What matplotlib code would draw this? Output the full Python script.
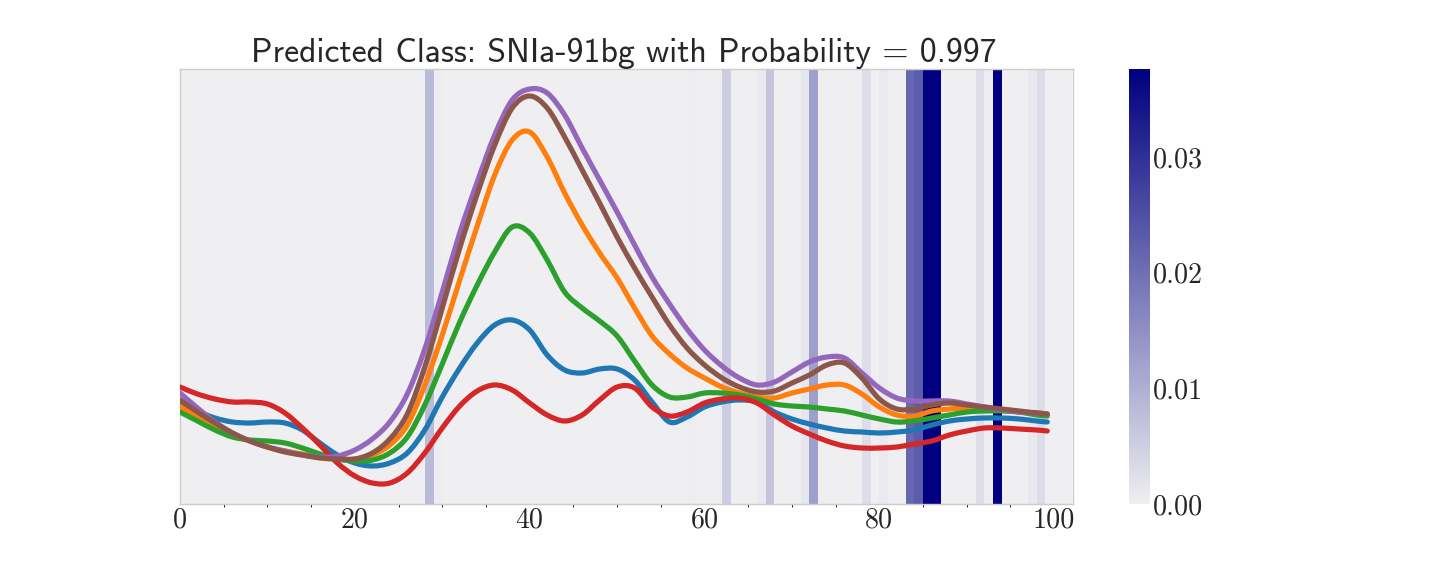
import numpy as np
import matplotlib
matplotlib.use("Agg")
import matplotlib.pyplot as plt
from matplotlib.colors import LinearSegmentedColormap
from matplotlib.path import Path
from matplotlib.patches import PathPatch

title_text = "Predicted Class: SNIa-91bg with Probability = 0.997"

x_vals = list(range(0, 100, 2)) + [99.2]
blue = [103,93,86,82,81,82,81,74,61,49, 41,38,41,51,74,107,136,161,179,184,
        174,149,134,131,135,135,124,102,82,87, 97,102,104,102,92,85,80,76,73,72,
        71,72,74,79,83,85,86,86,85,83, 82]
orange = [97,88,78,69,63,57,53,50,47,45, 45,49,59,79,119,169,224,278,329,364,
          372,347,311,279,251,226,196,168,150,136, 126,117,111,107,106,111,115,119,119,110,
          97,89,88,93,95,96,94,94,92,91, 90]
green = [92,83,74,67,64,63,61,56,50,45, 43,44,51,67,99,140,182,219,252,277,
         271,244,212,196,183,168,143,119,107,107, 111,111,109,105,100,98,97,95,93,89,
         85,82,83,86,89,92,93,93,92,89, 88]
red = [117,110,105,102,102,100,91,76,59,41, 28,21,21,31,51,76,98,113,119,114,
       101,89,83,89,104,117,116,97,88,92, 101,105,106,101,89,78,70,63,58,56,
       56,57,60,63,69,73,76,76,75,74, 73]
purple = [111,96,82,71,63,57,53,49,47,48, 54,65,82,110,155,212,271,322,369,404,
          415,411,389,356,324,292,259,227,200,175, 154,138,126,119,122,132,142,147,146,131,
          116,106,103,103,103,100,97,94,92,91, 90]
brown = [104,92,81,71,63,57,52,49,46,45, 45,51,65,90,137,196,256,310,359,396,
         408,396,367,334,301,267,236,207,179,156, 139,126,117,112,113,121,129,139,141,126,
         105,95,95,99,101,99,97,95,93,91, 90]
series = [blue, orange, green, red, purple, brown]
series_colors = ["#1f77b4", "#ff7f0e", "#2ca02c", "#d62728", "#9467bd", "#8c564b"]

attention_cells = {0: 0.0001, 1: 0.0002, 28: 0.0085, 29: 0.0003, 58: 0.0005, 62: 0.0053,
                   66: 0.001, 67: 0.0068, 71: 0.0016, 72: 0.0125, 78: 0.0027, 80: 0.001,
                   83: 0.0213, 84: 0.0232, 85: 0.0376, 86: 0.0376, 91: 0.0027, 92: 0.0003,
                   93: 0.0376, 97: 0.0011, 98: 0.0028}
n_cells = 102
vmax = 0.0376
major_ticks = [0, 20, 40, 60, 80, 100]
minor_ticks = [5, 10, 15, 25, 30, 35, 45, 50, 55, 65, 70, 75, 85, 90, 95]
cbar_ticks = [0.00, 0.01, 0.02, 0.03]
cbar_labels = ["0.00", "0.01", "0.02", "0.03"]

W, H = 1440, 576
TXT = "#262626"
cmap = LinearSegmentedColormap.from_list("att", ["#efeff2", "#000080"])


def smooth_path(xs, ys):
    """Smooth curve (cubic Bezier segments) passing through every listed point."""
    p = np.column_stack([xs, ys]).astype(float)
    m = np.gradient(p, axis=0)
    verts = [p[0]]
    codes = [Path.MOVETO]
    for i in range(len(p) - 1):
        verts += [p[i] + m[i] / 3, p[i + 1] - m[i + 1] / 3, p[i + 1]]
        codes += [Path.CURVE4] * 3
    return Path(verts, codes)


fig = plt.figure(figsize=(10, 4), dpi=144, facecolor="white")
ax = fig.add_axes([180 / W, 1 - 504 / H, (1073 - 180) / W, (504 - 69) / H])

att = np.zeros((1, n_cells))
for k, v in attention_cells.items():
    att[0, k] = v
ax.pcolormesh(np.arange(n_cells + 1), [0, 435], att, cmap=cmap, vmin=0, vmax=vmax, zorder=1)

for s, c in zip(series, series_colors):
    ax.add_patch(PathPatch(smooth_path(x_vals, s), fill=False, edgecolor=c, lw=2.6, zorder=3,
                           capstyle="round", joinstyle="round"))

ax.set_xlim(0, 102.15)
ax.set_ylim(0, 435)
ax.set_yticks([])
ax.set_xticks(major_ticks)
ax.set_xticklabels([str(t) for t in major_ticks], fontfamily="cmr10", fontsize=14, color=TXT)
ax.set_xticks(minor_ticks, minor=True)
ax.tick_params(axis="x", which="major", length=0, pad=1.5)
ax.tick_params(axis="x", which="minor", length=1.3, width=0.5, color=TXT)
for sp in ax.spines.values():
    sp.set_color("#cccccc")
    sp.set_linewidth(0.7)
ax.set_title(title_text, fontfamily="cmss10", fontsize=16.9, color=TXT, pad=3, x=0.4965)

cax = fig.add_axes([1129 / W, 1 - 504 / H, 21 / W, (504 - 69) / H])
grad = np.linspace(0, vmax, 256).reshape(-1, 1)
cax.imshow(grad, aspect="auto", origin="lower", cmap=cmap, vmin=0, vmax=vmax,
           extent=[0, 1, 0, vmax])
cax.set_xticks([])
cax.yaxis.tick_right()
cax.set_yticks(cbar_ticks)
cax.set_yticklabels(cbar_labels, fontfamily="cmr10", fontsize=14, color=TXT)
cax.tick_params(axis="y", length=0, pad=1.5)
for sp in cax.spines.values():
    sp.set_visible(False)

fig.savefig("out.png", dpi=144)
